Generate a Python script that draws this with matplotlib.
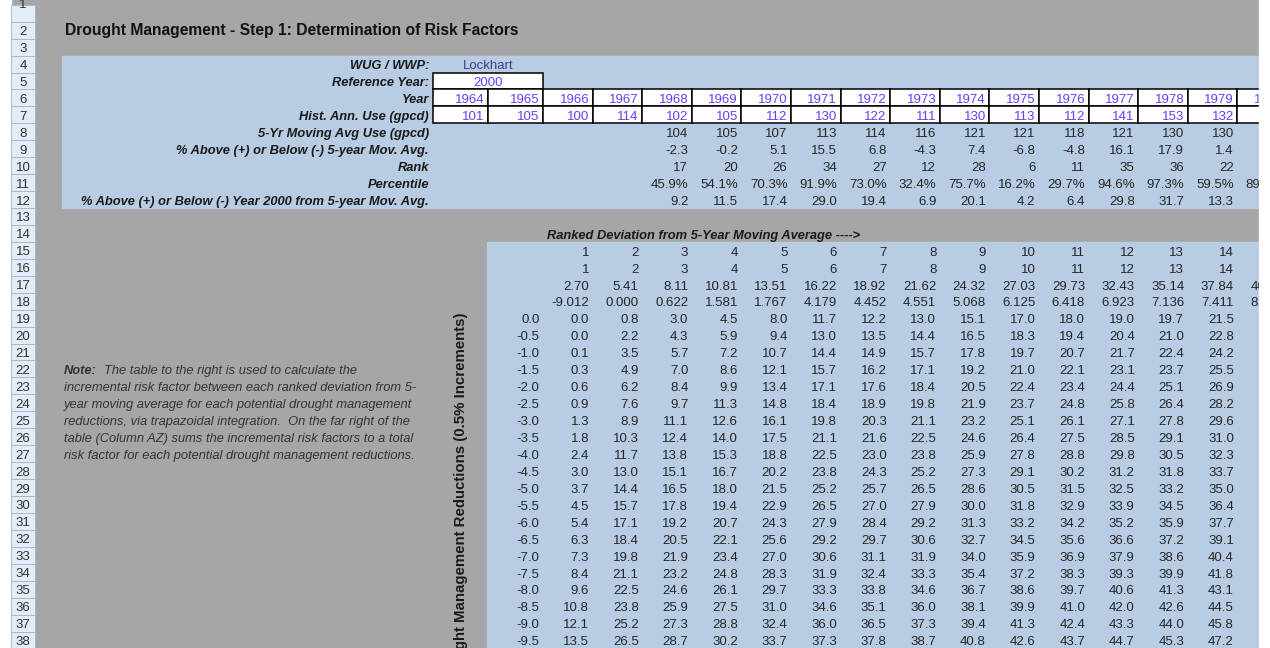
import numpy as np
import matplotlib.pyplot as plt
from matplotlib.patches import Rectangle

# --- data ---
wug = "Lockhart"
ref_year = 2000
years = [1964, 1965, 1966, 1967, 1968, 1969, 1970, 1971, 1972, 1973, 1974, 1975, 1976, 1977, 1978, 1979, 1980]
hist_use = [101, 105, 100, 114, 102, 105, 112, 130, 122, 111, 130, 113, 112, 141, 153, 132, None]
mov_avg = [None, None, None, None, 104, 105, 107, 113, 114, 116, 121, 121, 118, 121, 130, 130, None]
pct_mov = [None, None, None, None, -2.3, -0.2, 5.1, 15.5, 6.8, -4.3, 7.4, -6.8, -4.8, 16.1, 17.9, 1.4, None]
rank = [None, None, None, None, 17, 20, 26, 34, 27, 12, 28, 6, 11, 35, 36, 22, None]
percentile = [None, None, None, None, 45.9, 54.1, 70.3, 91.9, 73.0, 32.4, 75.7, 16.2, 29.7, 94.6, 97.3, 59.5, 89.2]
pct_2000 = [None, None, None, None, 9.2, 11.5, 17.4, 29.0, 19.4, 6.9, 20.1, 4.2, 6.4, 29.8, 31.7, 13.3, None]

ranked_no = [1, 2, 3, 4, 5, 6, 7, 8, 9, 10, 11, 12, 13, 14, 15]
ranked_pct = [2.70, 5.41, 8.11, 10.81, 13.51, 16.22, 18.92, 21.62, 24.32, 27.03, 29.73, 32.43, 35.14, 37.84, 40.54]
ranked_dev = [-9.012, 0.000, 0.622, 1.581, 1.767, 4.179, 4.452, 4.551, 5.068, 6.125, 6.418, 6.923, 7.136, 7.411, 8.150]
reductions = [0.0, -0.5, -1.0, -1.5, -2.0, -2.5, -3.0, -3.5, -4.0, -4.5, -5.0, -5.5, -6.0, -6.5, -7.0, -7.5, -8.0, -8.5, -9.0, -9.5]
risk = [
    [0.0, 0.0, 0.1, 0.3, 0.6, 0.9, 1.3, 1.8, 2.4, 3.0, 3.7, 4.5, 5.4, 6.3, 7.3, 8.4, 9.6, 10.8, 12.1, 13.5],
    [0.8, 2.2, 3.5, 4.9, 6.2, 7.6, 8.9, 10.3, 11.7, 13.0, 14.4, 15.7, 17.1, 18.4, 19.8, 21.1, 22.5, 23.8, 25.2, 26.5],
    [3.0, 4.3, 5.7, 7.0, 8.4, 9.7, 11.1, 12.4, 13.8, 15.1, 16.5, 17.8, 19.2, 20.5, 21.9, 23.2, 24.6, 25.9, 27.3, 28.7],
    [4.5, 5.9, 7.2, 8.6, 9.9, 11.3, 12.6, 14.0, 15.3, 16.7, 18.0, 19.4, 20.7, 22.1, 23.4, 24.8, 26.1, 27.5, 28.8, 30.2],
    [8.0, 9.4, 10.7, 12.1, 13.4, 14.8, 16.1, 17.5, 18.8, 20.2, 21.5, 22.9, 24.3, 25.6, 27.0, 28.3, 29.7, 31.0, 32.4, 33.7],
    [11.7, 13.0, 14.4, 15.7, 17.1, 18.4, 19.8, 21.1, 22.5, 23.8, 25.2, 26.5, 27.9, 29.2, 30.6, 31.9, 33.3, 34.6, 36.0, 37.3],
    [12.2, 13.5, 14.9, 16.2, 17.6, 18.9, 20.3, 21.6, 23.0, 24.3, 25.7, 27.0, 28.4, 29.7, 31.1, 32.4, 33.8, 35.1, 36.5, 37.8],
    [13.0, 14.4, 15.7, 17.1, 18.4, 19.8, 21.1, 22.5, 23.8, 25.2, 26.5, 27.9, 29.2, 30.6, 31.9, 33.3, 34.6, 36.0, 37.3, 38.7],
    [15.1, 16.5, 17.8, 19.2, 20.5, 21.9, 23.2, 24.6, 25.9, 27.3, 28.6, 30.0, 31.3, 32.7, 34.0, 35.4, 36.7, 38.1, 39.4, 40.8],
    [17.0, 18.3, 19.7, 21.0, 22.4, 23.7, 25.1, 26.4, 27.8, 29.1, 30.5, 31.8, 33.2, 34.5, 35.9, 37.2, 38.6, 39.9, 41.3, 42.6],
    [18.0, 19.4, 20.7, 22.1, 23.4, 24.8, 26.1, 27.5, 28.8, 30.2, 31.5, 32.9, 34.2, 35.6, 36.9, 38.3, 39.7, 41.0, 42.4, 43.7],
    [19.0, 20.4, 21.7, 23.1, 24.4, 25.8, 27.1, 28.5, 29.8, 31.2, 32.5, 33.9, 35.2, 36.6, 37.9, 39.3, 40.6, 42.0, 43.3, 44.7],
    [19.7, 21.0, 22.4, 23.7, 25.1, 26.4, 27.8, 29.1, 30.5, 31.8, 33.2, 34.5, 35.9, 37.2, 38.6, 39.9, 41.3, 42.6, 44.0, 45.3],
    [21.5, 22.8, 24.2, 25.5, 26.9, 28.2, 29.6, 31.0, 32.3, 33.7, 35.0, 36.4, 37.7, 39.1, 40.4, 41.8, 43.1, 44.5, 45.8, 47.2],
]

row_labels = ["WUG / WWP:", "Reference Year:", "Year", "Hist. Ann. Use (gpcd)", "5-Yr Moving Avg Use (gpcd)",
              "% Above (+) or Below (-) 5-year Mov. Avg.", "Rank", "Percentile",
              "% Above (+) or Below (-) Year 2000 from 5-year Mov. Avg."]
note_lines = ["The table to the right is used to calculate the",
              "incremental risk factor between each ranked deviation from 5-",
              "year moving average for each potential drought management",
              "reductions, via trapazoidal integration.  On the far right of the",
              "table (Column AZ) sums the incremental risk factors to a total",
              "risk factor for each potential drought management reductions."]

# --- sheet geometry (pixels) ---
GREY = '#a6a6a6'
BLUE = '#b8cce4'
TXT = '#262626'
YEARC = '#6a3cff'
ROW_H = 16.94
FS = 9.5      # numbers
FSL = 9.25    # bold italic labels
FONT = 'Liberation Sans'


def yc(r):  # centre of sheet row r
    return 640 - (38 - r) * ROW_H


col_edges = [433, 488, 543] + [543 + 49.6 * k for k in range(1, 16)]

plt.rcParams['font.family'] = FONT
fig = plt.figure(figsize=(12.7, 6.48), dpi=100)
ax = fig.add_axes([0, 0, 1, 1])
ax.set_xlim(0, 1270)
ax.set_ylim(648, 0)
ax.axis('off')

ax.add_patch(Rectangle((0, 0), 1270, 648, color=GREY, zorder=0))
ax.add_patch(Rectangle((0, 0), 11, 648, color='white', zorder=1))
# row headers
for r in range(1, 40):
    top = yc(r) - ROW_H / 2
    ax.add_patch(Rectangle((11, top), 24, ROW_H, facecolor='#e4ecf7', edgecolor='#9eb6ce', lw=0.6, zorder=1))
    ty = yc(r) + 5 if r > 1 else 8
    ax.text(23, ty, str(r), ha='center', va='baseline', fontsize=FS, color='#333333', zorder=2)

# blue panels
ax.add_patch(Rectangle((62, yc(4) - ROW_H / 2), 1200, 9 * ROW_H, color=BLUE, zorder=1))
ax.add_patch(Rectangle((487, yc(15) - ROW_H / 2), 780, 700, color=BLUE, zorder=1))

ax.text(65, yc(2) + 5.3, "Drought Management - Step 1: Determination of Risk Factors",
        fontsize=11.25, fontweight='bold', color='#111111', va='baseline')

for i, lab in enumerate(row_labels):
    ax.text(429, yc(4 + i) + 5.3, lab, ha='right', va='baseline', fontsize=FSL,
            fontweight='bold', fontstyle='italic', color='#1a1a1a')

ax.text(488, yc(4) + 5.3, wug, ha='center', va='baseline', fontsize=FS, color='#4a3a8a')
ax.add_patch(Rectangle((433, yc(5) - ROW_H / 2), 110, ROW_H, facecolor='white', edgecolor='black', lw=1.1, zorder=2))
ax.text(488, yc(5) + 5.3, str(ref_year), ha='center', va='baseline', fontsize=FS, color=YEARC, zorder=3)


def cell_text(col, r, s, color=TXT):
    ax.text(col_edges[col + 1] - 3.5, yc(r) + 5.3, s, ha='right', va='baseline',
            fontsize=FS, color=color, zorder=3)


for i, yr in enumerate(years):
    x0, x1 = col_edges[i], col_edges[i + 1]
    for r in (6, 7):
        ax.add_patch(Rectangle((x0, yc(r) - ROW_H / 2), x1 - x0, ROW_H, facecolor='white',
                               edgecolor='black', lw=1.1, zorder=2))
    cell_text(i, 6, str(yr), YEARC)
    if hist_use[i] is not None:
        cell_text(i, 7, str(hist_use[i]), YEARC)
    if mov_avg[i] is not None:
        cell_text(i, 8, str(mov_avg[i]))
    if pct_mov[i] is not None:
        cell_text(i, 9, f"{pct_mov[i]:.1f}")
    if rank[i] is not None:
        cell_text(i, 10, str(rank[i]))
    if percentile[i] is not None:
        cell_text(i, 11, f"{percentile[i]:.1f}%")
    if pct_2000[i] is not None:
        cell_text(i, 12, f"{pct_2000[i]:.1f}")

# note
note = ax.text(64, yc(22) + 5, "Note:", fontsize=FSL, fontweight='bold', fontstyle='italic',
               color='#333333', va='baseline')
for j, line in enumerate(note_lines):
    x = 104 if j == 0 else 64
    ax.text(x, yc(22 + j) + 5, line, fontsize=FSL, fontstyle='italic',
            color='#333333', va='baseline')

# ranked table
ax.text(547, yc(14) + 5.3, "Ranked Deviation from 5-Year Moving Average ---->", fontsize=FSL,
        fontweight='bold', fontstyle='italic', color='#1a1a1a', va='baseline')
ax.text(461, 312, "Drought Management Reductions (0.5% Increments)", rotation=90, ha='center', va='top',
        fontsize=10.8, fontweight='bold', color='#1a1a1a', zorder=3)

for k in range(len(ranked_no)):
    c = k + 2
    cell_text(c, 15, str(ranked_no[k]))
    cell_text(c, 16, str(ranked_no[k]))
    cell_text(c, 17, f"{ranked_pct[k]:.2f}")
    cell_text(c, 18, f"{ranked_dev[k]:.3f}")
for j, red in enumerate(reductions):
    cell_text(1, 19 + j, f"{red:.1f}")
    for k, col in enumerate(risk):
        cell_text(k + 2, 19 + j, f"{col[j]:.1f}")

# window edge on the right
ax.add_patch(Rectangle((1259, 0), 20, 648, color='white', zorder=20))

plt.savefig('out.png', dpi=100)
